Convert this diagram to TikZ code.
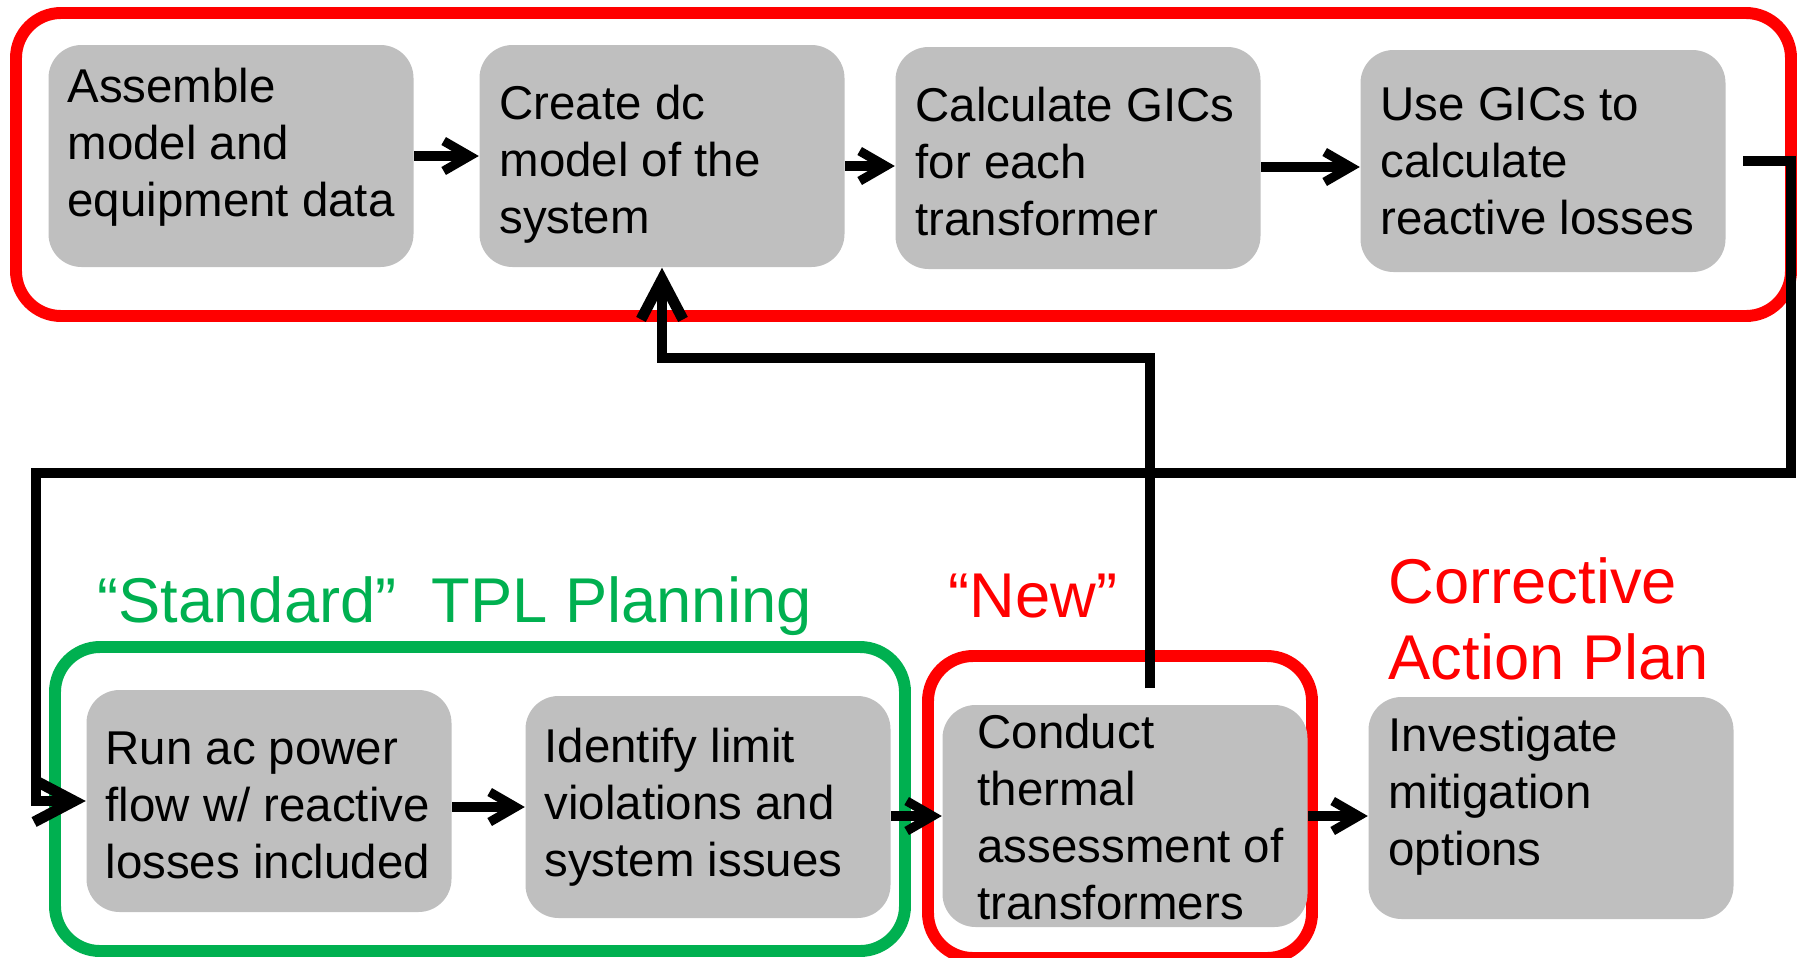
\documentclass[tikz,border=0pt]{standalone}
\usepackage{fontspec}
\setmainfont{Liberation Sans}
\usepackage{tikz}
\usetikzlibrary{positioning,calc,arrows.meta}
\definecolor{boxgray}{RGB}{191,191,191}
\definecolor{tplgreen}{RGB}{0,176,80}
\tikzset{
  gbox/.style={fill=boxgray, rounded corners=0.33cm, minimum width=3.65cm, minimum height=2.22cm, inner sep=0pt},
  gtxt/.style={anchor=north west, inner sep=0pt, align=left, font=\fontsize{13.5}{16.2}\selectfont},
  head/.style={inner sep=0pt, font=\fontsize{18}{21.6}\selectfont},
  frame/.style={line width=3.4pt, rounded corners=0.45cm},
  arr/.style={line width=2.6pt, -{Straight Barb[length=0.26cm,width=0.3cm]}},
  bigarr/.style={line width=3.1pt, -{Straight Barb[length=0.4cm,width=0.42cm]}},
}
\newcommand{\gbox}[4]{\node [gbox] (#1) at (#2) {};
  \node [gtxt] (#1-t) at ([shift={(#3)}]#1.north west) {#4}}

\begin{document}
\begin{tikzpicture}[x=0.1mm,y=-0.1mm]
\useasboundingbox (0,0) rectangle (1802,957);

% groups
\draw[frame, red] (16,13) rectangle (1791,316);
\draw[frame, tplgreen] (55,647) rectangle (905,951);
\draw[frame, red] (928,656) rectangle (1312,958);

\node[head, text=tplgreen, anchor=base west] (std) at (97,622) {“Standard”\ \ TPL Planning};
\node[head, text=red, anchor=base west] (new) at (948,617) {“New”};
\node[head, text=red, anchor=north west, align=left] (cap) at (1388,557) {Corrective\\Action Plan};

% GIC steps
\gbox{asm}{231,156}{19,23}{Assemble\\model and\\equipment data};
\gbox{dcm}{662,156}{20,40}{Create dc\\model of the\\system};
\gbox{gic}{1078,158}{20,40}{Calculate GICs\\for each\\transformer};
\gbox{rlo}{1543,161}{20,37}{Use GICs to\\calculate\\reactive losses};

% planning steps
\gbox{run}{269,801}{19,42}{Run ac power\\flow w/ reactive\\losses included};
\gbox{idl}{708,807}{19,32}{Identify limit\\violations and\\system issues};
\gbox{tha}{1125,816}{35,9}{Conduct\\thermal\\assessment of\\transformers};
\gbox{mit}{1551,808}{20,20}{Investigate\\mitigation\\options};

\draw[arr] (asm) -- (dcm);
\draw[arr] ([shift={(0,10)}]dcm.east) -- ([shift={(0,10)}]dcm.east -| gic.west);
\draw[arr] ([shift={(0,9)}]gic.east) -- ([shift={(0,9)}]gic.east -| rlo.west);
\draw[arr] (run.east |- idl.west) -- (idl.west);
\draw[arr] (idl.east |- tha.west) -- (tha.west);
\draw[arr] (tha.east) -- (tha.east -| mit.west);

% loops
\coordinate (rt) at (1791,473);
\coordinate (lt) at (36,473);
\coordinate (fbk) at (662,358);
\draw[bigarr] ([shift={(17,0)}]rlo.east) -| (rt) -- (lt) |- (run.west);
\draw[bigarr] ([shift={(25,-16)}]tha.north) |- (fbk) -- (dcm.south);

\end{tikzpicture}
\end{document}
